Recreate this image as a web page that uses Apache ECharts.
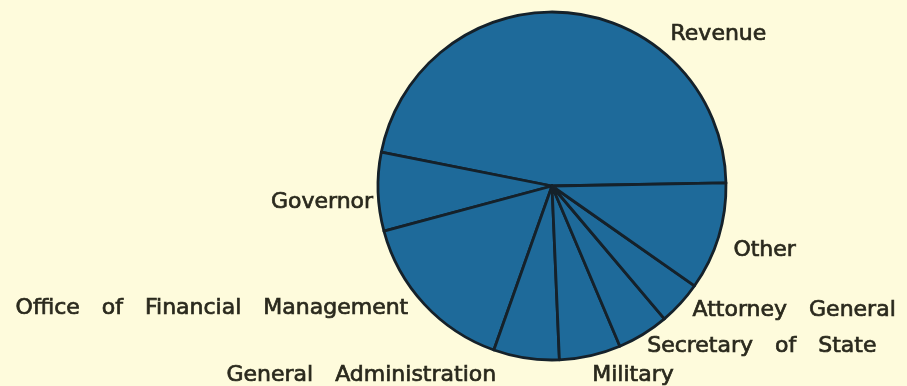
<!DOCTYPE html>
<html>
<head>
<meta charset="utf-8">
<script src="https://cdn.jsdelivr.net/npm/echarts@6/dist/echarts.min.js"></script>
<style>
  html, body { margin: 0; padding: 0; background: #fefbdc; }
  #chart { width: 907px; height: 386px; }
</style>
</head>
<body>
<div id="chart"></div>
<script>
// Agency shares of the budget (percent), listed counterclockwise from 3 o'clock
const agencies = [
  'Revenue',
  'Governor',
  'Office of Financial Management',
  'General Administration',
  'Military',
  'Secretary of State',
  'Attorney General',
  'Other'
];
const shares = [46.6, 7.3, 15.4, 6.1, 5.7, 4.8, 4.1, 10.0];

// Nudges for each label away from the rim point of its slice
const labelNudge = [
  [103, 22], [-5, 11], [-16, 4], [-30, 17],
  [2, 20], [4, 12], [12, 7], [15, 13]
];

const chart = echarts.init(document.getElementById('chart'), null, { renderer: 'canvas' });

chart.setOption({
  backgroundColor: '#fefbdc',
  animation: false,
  series: [{
    type: 'pie',
    center: [552, 186],
    radius: 174,
    startAngle: 1,
    clockwise: false,
    avoidLabelOverlap: false,
    silent: true,
    itemStyle: {
      color: '#1e6a9a',
      borderColor: '#15212a',
      borderWidth: 2.8
    },
    label: {
      show: true,
      position: 'outside',
      distanceToLabelLine: 0,
      color: '#2a291d',
      textBorderColor: '#2a291d',
      textBorderWidth: 0.7,
      fontFamily: 'DejaVu Sans',
      fontSize: 22,
      formatter: p => p.name.replace(/ /g, '\u2003')
    },
    labelLine: { show: false, length: 0, length2: 0 },
    labelLayout: p => ({ dx: labelNudge[p.dataIndex][0], dy: labelNudge[p.dataIndex][1] }),
    emphasis: { disabled: true },
    data: agencies.map((name, i) => ({ name, value: shares[i] }))
  }]
});
</script>
</body>
</html>
